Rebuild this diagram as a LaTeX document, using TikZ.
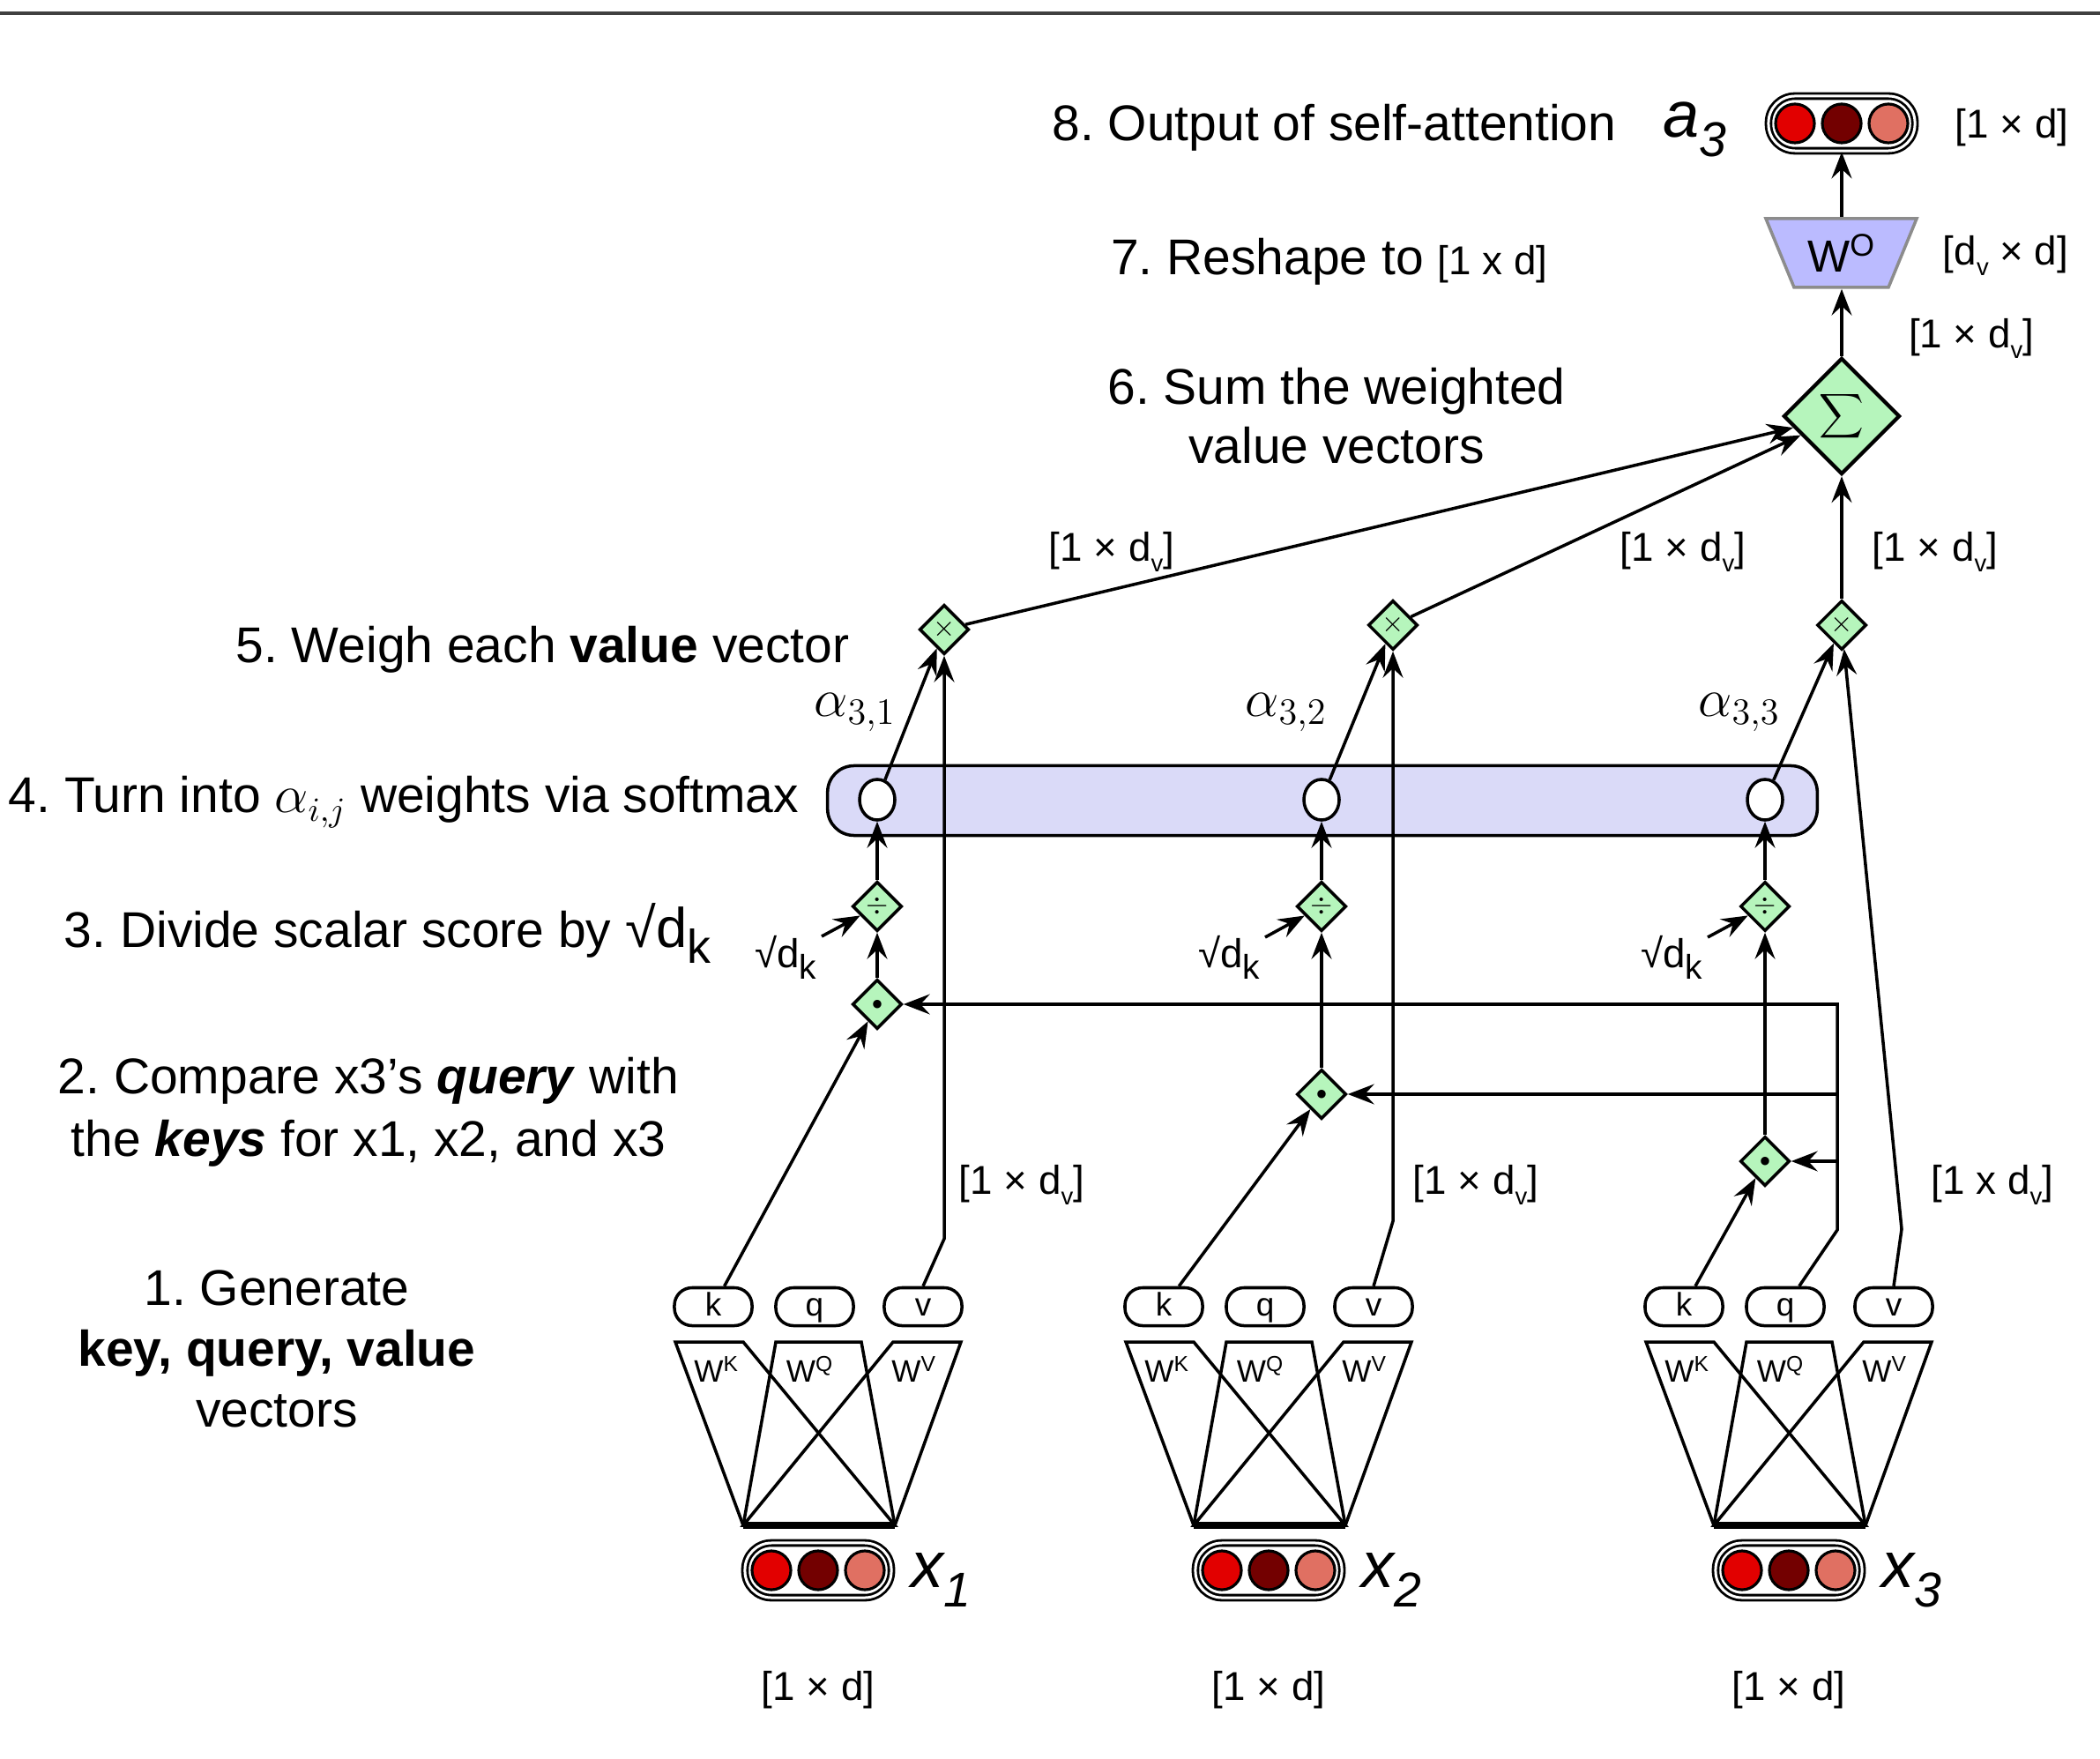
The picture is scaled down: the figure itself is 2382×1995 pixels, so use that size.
\documentclass[tikz,border=0pt]{standalone}
\usepackage{fontspec}
\usepackage{graphicx}
\setmainfont{Liberation Sans}
\usetikzlibrary{shapes.geometric,arrows.meta,calc}
\definecolor{vred}{RGB}{226,0,0}
\definecolor{vdark}{RGB}{115,0,0}
\definecolor{vsalmon}{RGB}{224,112,98}
\definecolor{opgreen}{RGB}{182,245,188}
\definecolor{softbar}{RGB}{218,218,248}
\definecolor{wofill}{RGB}{187,187,255}
\newcommand{\sqdk}{√d\raisebox{-0.3em}{\scalebox{0.85}{k}}}
\newcommand{\subv}{\raisebox{-0.25em}{\scalebox{0.6}{v}}}
\newcommand{\xsub}[1]{\raisebox{-0.3em}{\scalebox{0.75}{#1}}}
\frenchspacing
\begin{document}
\begin{tikzpicture}[x=0.01cm,y=-0.01cm,line width=1pt,
  >={Stealth[length=8.5pt,width=6.5pt,inset=3pt]},
  lbl/.style={font=\fontsize{16.2}{19}\selectfont,inner sep=0pt,align=center},
  dim/.style={font=\fontsize{13}{15}\selectfont,inner sep=0pt},
  sqlab/.style={font=\fontsize{13}{15}\selectfont,inner sep=0pt},
  alab/.style={font=\fontsize{17}{17}\selectfont,inner sep=0pt},
  xlab/.style={font=\fontsize{21}{21}\selectfont\itshape,inner sep=0pt},
  opnode/.style={diamond,aspect=1,draw,fill=opgreen,inner sep=0pt,minimum size=0.56cm,line width=1pt},
  kqv/.style={draw,rectangle,rounded corners=0.2cm,minimum width=0.88cm,minimum height=0.43cm,inner sep=0pt,text height=7.7pt,text depth=1.6pt,font=\fontsize{10.5}{10.5}\selectfont},
  wlab/.style={font=\fontsize{10}{10}\selectfont,inner sep=0pt},
  vecbox/.style={draw,double,double distance=0.03cm,line width=0.8pt,rectangle,rounded corners=0.3cm,minimum width=1.66cm,minimum height=0.62cm,inner sep=0pt},
  ball/.style={circle,draw,line width=0.9pt,minimum size=0.44cm,inner sep=0pt},
  smc/.style={ellipse,draw,fill=white,minimum width=0.40cm,minimum height=0.46cm,inner sep=0pt,line width=1pt}
]
\useasboundingbox (0,0) rectangle (2382,1995);
\draw[line width=1pt,black!75] (0,15) -- (2382,15);

% ---------- bottom blocks ----------
\foreach \b/\n in {928/1,1439/2,2029/3}{
  \draw (\b-162,1522) -- (\b-85,1522) -- (\b+87,1730) -- (\b-85,1730) -- cycle;
  \draw (\b-48,1522) -- (\b+49,1522) -- (\b+87,1730) -- (\b-85,1730) -- cycle;
  \draw (\b+85,1522) -- (\b+162,1522) -- (\b+87,1730) -- (\b-85,1730) -- cycle;
  \draw[line width=2pt] (\b-85,1730) -- (\b+87,1730);
  \node[wlab] (wk\n) at (\b-115,1553) {W\textsuperscript{K}};
  \node[wlab] (wq\n) at (\b-9,1553) {W\textsuperscript{Q}};
  \node[wlab] (wv\n) at (\b+109,1553) {W\textsuperscript{V}};
  \node[kqv] (k\n) at (\b-119,1482) {k};
  \node[kqv] (q\n) at (\b-4,1482) {q};
  \node[kqv] (v\n) at (\b+119,1482) {v};
  \node[vecbox] (xv\n) at (\b,1781) {};
  \node[ball,fill=vred] (xa\n) at (\b-53,1781) {};
  \node[ball,fill=vdark] (xb\n) at (\b,1781) {};
  \node[ball,fill=vsalmon] (xc\n) at (\b+53,1781) {};
  \node[xlab,anchor=west] (xl\n) at (\b+104,1792) {x\xsub{\n}};
  \node[dim] (xd\n) at (\b,1917) {[1 × d]};
}

% ---------- top output ----------
\node[vecbox] (av) at (2089,140) {};
\node[ball,fill=vred] (aa) at (2036,140) {};
\node[ball,fill=vdark] (ab) at (2089,140) {};
\node[ball,fill=vsalmon] (ac) at (2142,140) {};
\node[xlab] (al) at (1922,147) {a\xsub{3}};
\node[dim] (d8) at (2282,145) {[1 × d]};

\draw[fill=wofill,draw=black!45,line width=1pt] (2003,248) -- (2174,248) -- (2142,326) -- (2035,326) -- cycle;
\node[font=\fontsize{14.5}{14.5}\selectfont,minimum width=1.0cm,minimum height=0.78cm,inner sep=0pt] (wo) at (2089,287) {W\textsuperscript{O}};
\node[dim] (d7) at (2275,290) {[d\subv{} × d]};
\node[dim] (d6) at (2236,384) {[1 × d\subv]};

\node[opnode,minimum size=1.32cm,line width=1.2pt] (sig) at (2089,472) {\fontsize{15}{15}\selectfont$\displaystyle\sum$};

% ---------- softmax bar ----------
\node[draw,fill=softbar,rounded corners=0.3cm,minimum width=11.22cm,minimum height=0.79cm,inner sep=0pt] (bar) at (1500,908) {};

% ---------- operation nodes ----------
\node[opnode] (m1) at (1071,714) {\fontsize{9}{9}\selectfont$\times$};
\node[opnode] (m2) at (1580,709) {\fontsize{9}{9}\selectfont$\times$};
\node[opnode] (m3) at (2089,709) {\fontsize{9}{9}\selectfont$\times$};

\node[opnode] (div1) at (995,1028) {\fontsize{9}{9}\selectfont$\div$};
\node[opnode] (div2) at (1499,1028) {\fontsize{9}{9}\selectfont$\div$};
\node[opnode] (div3) at (2002,1028) {\fontsize{9}{9}\selectfont$\div$};

\node[opnode] (dot1) at (995,1139) {\fontsize{6}{6}\selectfont$\bullet$};
\node[opnode] (dot2) at (1499,1241) {\fontsize{6}{6}\selectfont$\bullet$};
\node[opnode] (dot3) at (2002,1317) {\fontsize{6}{6}\selectfont$\bullet$};

% ---------- coordinates ----------
\coordinate (vb1) at (1071,1405);
\coordinate (vb2) at (1580,1385);
\coordinate (vb3) at (2157,1394);
\coordinate (qb) at (2084,1395);
\coordinate (qt) at (2084,1139);
\coordinate (qm2) at (2084,1241);
\coordinate (qm3) at (2084,1317);
\coordinate (r1s) at (932,1062);
\coordinate (r2s) at (1435,1063);
\coordinate (r3s) at (1937,1063);

% ---------- connectors ----------
\draw[->] (v1.north) -- (vb1) -- (m1);
\draw[->] (v2.north) -- (vb2) -- (m2);
\draw[->] (v3.north) -- (vb3) -- (m3);

\node[smc] (s1) at (995,907) {};
\node[smc] (s2) at (1499,907) {};
\node[smc] (s3) at (2002,907) {};

\draw[->] (k1) -- (dot1);
\draw[->] (k2) -- (dot2);
\draw[->] (k3) -- (dot3);
\draw[->] (q3) -- (qb) -- (qt) -- (dot1);
\draw[->] (qm2) -- (dot2);
\draw[->] (qm3) -- (dot3);

\draw[->] (dot1) -- (div1);
\draw[->] (dot2) -- (div2);
\draw[->] (dot3) -- (div3);
\draw[->] (div1) -- (s1);
\draw[->] (div2) -- (s2);
\draw[->] (div3) -- (s3);
\draw[->] (r1s) -- (div1);
\draw[->] (r2s) -- (div2);
\draw[->] (r3s) -- (div3);
\draw[->] (s1) -- (m1);
\draw[->] (s2) -- (m2);
\draw[->] (s3) -- (m3);
\draw[->] (m1) -- (sig);
\draw[->] (m2) -- (sig);
\draw[->] (m3) -- (sig);
\draw[->] (sig) -- (wo);
\draw[->] (wo) -- (av);

% ---------- small labels ----------
\node[sqlab] (r1) at (891,1086) {\sqdk};
\node[sqlab] (r2) at (1394,1086) {\sqdk};
\node[sqlab] (r3) at (1896,1086) {\sqdk};
\node[alab] (al1) at (970,808) {$\alpha_{3,1}$};
\node[alab] (al2) at (1459,808) {$\alpha_{3,2}$};
\node[alab] (al3) at (1973,808) {$\alpha_{3,3}$};
\node[dim] (dm1) at (1261,626) {[1 × d\subv]};
\node[dim] (dm2) at (1909,626) {[1 × d\subv]};
\node[dim] (dm3) at (2195,626) {[1 × d\subv]};
\node[dim] (dv1) at (1159,1344) {[1 × d\subv]};
\node[dim] (dv2) at (1674,1344) {[1 × d\subv]};
\node[dim] (dv3) at (2260,1344) {[1 x d\subv]};

% ---------- step labels ----------
\node[lbl,anchor=base east] (t8) at (1835,160) {8. Output of self-attention};
\node[lbl,anchor=base east] (t7) at (1757,312) {7. Reshape to {\fontsize{13}{15}\selectfont[1 x d]}};
\node[lbl] (t6) at (1516,472) {6. Sum the weighted\\value vectors};
\node[lbl,anchor=base east] (t5) at (965,752) {5. Weigh each \textbf{value} vector};
\node[lbl,anchor=base east] (t4) at (908,922) {4. Turn into $\alpha_{i,j}$ weights via softmax};
\node[lbl,anchor=base east] (t3) at (808,1074) {3. Divide scalar score by {\fontsize{18}{18}\selectfont\sqdk}};
\node[lbl,font=\fontsize{16.2}{20.3}\selectfont] (t2) at (418,1261) {2. Compare x3’s \textbf{\textit{query}} with\\the \textbf{\textit{keys}} for x1, x2, and x3};
\node[lbl,font=\fontsize{16.2}{19.7}\selectfont] (t1) at (314,1530) {1. Generate\\\textbf{key, query, value}\\vectors};
\end{tikzpicture}
\end{document}
